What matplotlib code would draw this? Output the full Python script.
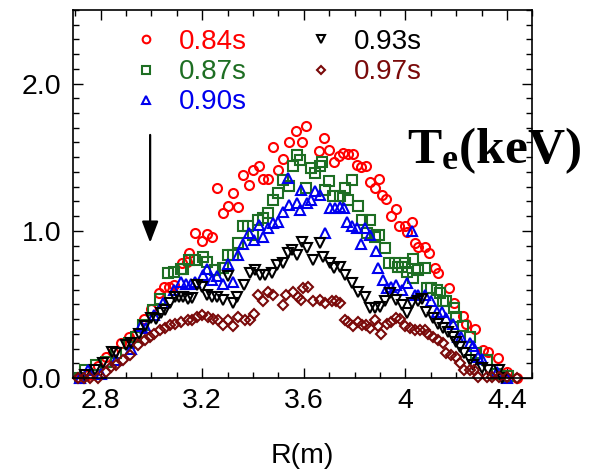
import matplotlib
matplotlib.use("Agg")
import matplotlib.pyplot as plt

plt.rcParams["font.family"] = ["Liberation Sans", "DejaVu Sans"]
plt.rcParams["mathtext.fontset"] = "custom"
plt.rcParams["mathtext.bf"] = "Liberation Serif:bold"
plt.rcParams["mathtext.rm"] = "Liberation Serif:bold"

# electron temperature profiles Te(R) at five times
r084 = [2.72, 2.75, 2.79, 2.82, 2.85, 2.88, 2.91, 2.94, 2.97, 3.00,
        3.03, 3.05, 3.07, 3.09, 3.12, 3.14, 3.15, 3.17, 3.20, 3.22,
        3.24, 3.26, 3.28, 3.30, 3.32, 3.34, 3.36, 3.385, 3.40, 3.425,
        3.44, 3.46, 3.48, 3.50, 3.52, 3.54, 3.57, 3.595, 3.61, 3.66,
        3.68, 3.70, 3.72, 3.74, 3.755, 3.775, 3.795, 3.81, 3.825, 3.845,
        3.86, 3.88, 3.896, 3.91, 3.923, 3.943, 3.965, 3.975, 3.998, 4.005,
        4.027, 4.038, 4.05, 4.077, 4.094, 4.116, 4.13, 4.17, 4.19, 4.228,
        4.24, 4.273, 4.306, 4.326, 4.365, 4.40, 4.438]
te084 = [0.0, 0.02, 0.08, 0.145, 0.18, 0.24, 0.28, 0.30, 0.40, 0.47,
         0.58, 0.62, 0.62, 0.63, 0.78, 0.79, 0.85, 0.985, 0.93, 0.98,
         0.96, 1.29, 1.12, 1.17, 1.26, 1.16, 1.38, 1.31, 1.415, 1.44,
         1.35, 1.35, 1.57, 1.415, 1.49, 1.60, 1.68, 1.60, 1.71, 1.54,
         1.63, 1.55, 1.47, 1.51, 1.53, 1.52, 1.52, 1.45, 1.43, 1.44,
         1.33, 1.29, 1.35, 1.24, 1.215, 1.10, 1.15, 1.03, 1.03, 0.995,
         1.06, 0.92, 0.89, 0.89, 0.85, 0.75, 0.71, 0.61, 0.51, 0.42,
         0.37, 0.33, 0.19, 0.18, 0.134, 0.043, 0.0]

r087 = [2.72, 2.74, 2.78, 2.82, 2.86, 2.91, 2.94, 2.966, 3.006, 3.032,
        3.065, 3.09, 3.116, 3.125, 3.15, 3.171, 3.204, 3.217, 3.25, 3.283,
        3.30, 3.322, 3.342, 3.362, 3.38, 3.40, 3.42, 3.44, 3.46, 3.48,
        3.50, 3.52, 3.54, 3.558, 3.574, 3.585, 3.61, 3.63, 3.644, 3.664,
        3.67, 3.683, 3.70, 3.716, 3.742, 3.762, 3.775, 3.788, 3.815, 3.828,
        3.848, 3.86, 3.88, 3.895, 3.92, 3.935, 3.96, 3.972, 3.985, 3.998,
        4.005, 4.031, 4.031, 4.05, 4.077, 4.084, 4.10, 4.123, 4.135, 4.149,
        4.16, 4.19, 4.20, 4.228, 4.253, 4.28, 4.32, 4.36, 4.405]
te087 = [0.0, 0.054, 0.088, 0.11, 0.168, 0.236, 0.28, 0.36, 0.46, 0.54,
         0.71, 0.72, 0.74, 0.74, 0.80, 0.80, 0.82, 0.79, 0.735, 0.745,
         0.837, 0.837, 0.916, 1.03, 1.034, 0.973, 1.075, 1.086, 1.12, 1.21,
         1.26, 1.347, 1.306, 1.437, 1.517, 1.48, 1.29, 1.425, 1.39, 1.44,
         1.47, 1.276, 1.34, 1.236, 1.236, 1.29, 1.21, 1.347, 1.17, 1.075,
         0.984, 1.075, 0.96, 0.973, 0.88, 0.78, 0.78, 0.757, 0.757, 0.78,
         0.72, 0.81, 0.68, 0.735, 0.745, 0.61, 0.61, 0.60, 0.58, 0.52,
         0.52, 0.474, 0.417, 0.35, 0.28, 0.17, 0.12, 0.03, 0.014]

r090 = [2.72, 2.75, 2.80, 2.86, 2.92, 2.96, 2.98, 3.012, 3.045, 3.09,
        3.117, 3.137, 3.157, 3.172, 3.204, 3.217, 3.237, 3.257, 3.283, 3.303,
        3.32, 3.34, 3.362, 3.385, 3.404, 3.422, 3.44, 3.46, 3.48, 3.50,
        3.52, 3.539, 3.54, 3.574, 3.585, 3.59, 3.611, 3.63, 3.644, 3.664,
        3.683, 3.703, 3.723, 3.742, 3.76, 3.77, 3.788, 3.81, 3.824, 3.84,
        3.86, 3.884, 3.893, 3.913, 3.926, 3.945, 3.965, 3.985, 4.005, 4.025,
        4.038, 4.05, 4.077, 4.103, 4.123, 4.143, 4.162, 4.188, 4.208, 4.22,
        4.254, 4.265, 4.287, 4.30, 4.36, 4.40]
te090 = [0.0, 0.054, 0.03, 0.12, 0.20, 0.35, 0.34, 0.43, 0.51, 0.60,
         0.655, 0.64, 0.64, 0.65, 0.70, 0.74, 0.667, 0.69, 0.64, 0.776,
         0.655, 0.837, 0.91, 0.985, 0.94, 1.04, 0.96, 1.02, 1.05, 1.063,
         1.13, 1.357, 1.177, 1.19, 1.143, 1.28, 1.19, 1.21, 1.27, 1.245,
         0.984, 1.154, 1.154, 1.16, 1.154, 1.063, 1.03, 1.018, 0.91, 1.018,
         0.973, 0.86, 0.745, 0.667, 0.61, 0.62, 0.633, 0.60, 0.644, 1.0,
         0.565, 0.565, 0.565, 0.52, 0.45, 0.45, 0.405, 0.37, 0.28, 0.28,
         0.236, 0.22, 0.145, 0.13, 0.043, 0.0]

r093 = [2.74, 2.776, 2.81, 2.843, 2.86, 2.90, 2.92, 2.95, 2.975, 2.999,
        3.02, 3.039, 3.052, 3.072, 3.092, 3.11, 3.124, 3.144, 3.16, 3.178,
        3.198, 3.217, 3.237, 3.257, 3.283, 3.303, 3.322, 3.336, 3.366, 3.388,
        3.408, 3.428, 3.447, 3.473, 3.493, 3.52, 3.539, 3.552, 3.572, 3.592,
        3.611, 3.637, 3.664, 3.677, 3.703, 3.72, 3.742, 3.762, 3.788, 3.815,
        3.84, 3.86, 3.88, 3.90, 3.92, 3.94, 3.965, 3.985, 4.005, 4.025,
        4.05, 4.064, 4.083, 4.11, 4.13, 4.149, 4.168, 4.188, 4.20, 4.214,
        4.233, 4.253, 4.266, 4.30, 4.325, 4.37, 4.38]
te093 = [0.02, 0.054, 0.10, 0.18, 0.17, 0.224, 0.236, 0.30, 0.35, 0.406,
         0.40, 0.44, 0.46, 0.51, 0.553, 0.553, 0.553, 0.54, 0.545, 0.633,
         0.62, 0.565, 0.553, 0.553, 0.53, 0.69, 0.507, 0.553, 0.633, 0.71,
         0.735, 0.70, 0.70, 0.71, 0.77, 0.78, 0.848, 0.87, 0.837, 0.927,
         0.88, 0.803, 0.916, 0.825, 0.78, 0.745, 0.757, 0.70, 0.644, 0.587,
         0.553, 0.474, 0.474, 0.485, 0.52, 0.576, 0.53, 0.497, 0.44, 0.507,
         0.52, 0.54, 0.45, 0.405, 0.37, 0.337, 0.315, 0.28, 0.247, 0.213,
         0.168, 0.12, 0.088, 0.07, 0.054, 0.054, 0.0]

r097 = [2.71, 2.735, 2.76, 2.79, 2.822, 2.84, 2.86, 2.888, 2.914, 2.947,
        2.973, 2.993, 3.012, 3.032, 3.052, 3.072, 3.092, 3.117, 3.144, 3.16,
        3.178, 3.198, 3.224, 3.244, 3.263, 3.283, 3.303, 3.322, 3.342, 3.368,
        3.388, 3.405, 3.42, 3.44, 3.46, 3.48, 3.52, 3.532, 3.558, 3.578,
        3.59, 3.598, 3.617, 3.637, 3.664, 3.683, 3.71, 3.725, 3.742, 3.762,
        3.775, 3.795, 3.815, 3.828, 3.845, 3.86, 3.88, 3.893, 3.906, 3.926,
        3.945, 3.965, 3.98, 3.998, 4.018, 4.038, 4.058, 4.077, 4.09, 4.11,
        4.13, 4.149, 4.162, 4.18, 4.20, 4.214, 4.233, 4.253, 4.27, 4.287,
        4.32, 4.34, 4.37, 4.40, 4.438]
te097 = [0.0, 0.0, 0.0, 0.0, 0.043, 0.077, 0.088, 0.122, 0.156, 0.224,
         0.258, 0.28, 0.30, 0.327, 0.338, 0.36, 0.37, 0.383, 0.395, 0.395,
         0.417, 0.43, 0.417, 0.40, 0.395, 0.36, 0.395, 0.35, 0.417, 0.395,
         0.395, 0.435, 0.565, 0.52, 0.587, 0.565, 0.497, 0.565, 0.587, 0.553,
         0.53, 0.61, 0.62, 0.52, 0.53, 0.507, 0.52, 0.52, 0.507, 0.395,
         0.383, 0.35, 0.383, 0.36, 0.36, 0.338, 0.395, 0.35, 0.30, 0.37,
         0.383, 0.405, 0.40, 0.35, 0.338, 0.327, 0.327, 0.327, 0.30, 0.28,
         0.258, 0.236, 0.168, 0.156, 0.145, 0.10, 0.054, 0.054, 0.054, 0.009,
         0.009, 0.009, 0.009, 0.009, 0.0]

labels = ["0.84s", "0.87s", "0.90s", "0.93s", "0.97s"]
colors = ["#ff0000", "#1e6e23", "#0000ee", "#000000", "#7a0a0a"]
markers = ["o", "s", "^", "v", "D"]
sizes = [6.5, 7, 6.5, 7, 4.8]
profiles = [(r084, te084), (r087, te087), (r090, te090),
            (r093, te093), (r097, te097)]

fig = plt.figure(figsize=(5.9, 4.74), dpi=100)
ax = fig.add_axes([0.1232, 0.2025, 0.779, 0.7765])

handles = []
for (r, te), lab, c, m, s in zip(profiles, labels, colors, markers, sizes):
    h, = ax.plot(r, te, linestyle="none", marker=m, markersize=s,
                 markerfacecolor="none", markeredgecolor=c,
                 markeredgewidth=1.5, label=lab, clip_on=False)
    handles.append(h)

ax.set_xlim(2.69, 4.50)
ax.set_ylim(0, 2.5)
ax.set_xticks([2.8, 3.2, 3.6, 4.0, 4.4])
ax.set_xticklabels(["2.8", "3.2", "3.6", "4", "4.4"])
ax.set_yticks([0, 1, 2])
ax.set_yticklabels(["0.0", "1.0", "2.0"])
ax.set_xticks([x / 10 for x in range(27, 46)], minor=True)
ax.set_yticks([y / 10 for y in range(0, 26)], minor=True)
ax.tick_params(which="both", direction="in", top=True, right=True,
               width=1.0, labelsize=20.5)
ax.tick_params(which="major", length=7.5)
ax.tick_params(which="minor", length=4)
ax.tick_params(axis="x", pad=7)
ax.tick_params(axis="y", pad=8)
for sp in ax.spines.values():
    sp.set_linewidth(1.2)

ax.set_xlabel("R(m)", fontsize=20.5, labelpad=21)

leg = ax.legend(handles=handles, loc="upper left",
                bbox_to_anchor=(0.129, 0.948), ncol=2, frameon=False,
                fontsize=20, handlelength=1.0, handletextpad=0.7,
                columnspacing=2.15, labelspacing=0.15, borderpad=0,
                borderaxespad=0, numpoints=1, markerscale=0.85)
for txt, c in zip(leg.get_texts(), colors):
    txt.set_color(c)

# time arrow
ax.annotate("", xy=(2.995, 0.90), xytext=(2.995, 1.67),
            arrowprops=dict(arrowstyle="-|>,head_length=1.3,head_width=0.5",
                            color="black", lw=1.6))

ax.text(4.005, 1.46, r"$\mathbf{T_e(keV)}$", fontsize=37,
        ha="left", va="baseline", clip_on=False)

fig.savefig("out.png", dpi=100)
